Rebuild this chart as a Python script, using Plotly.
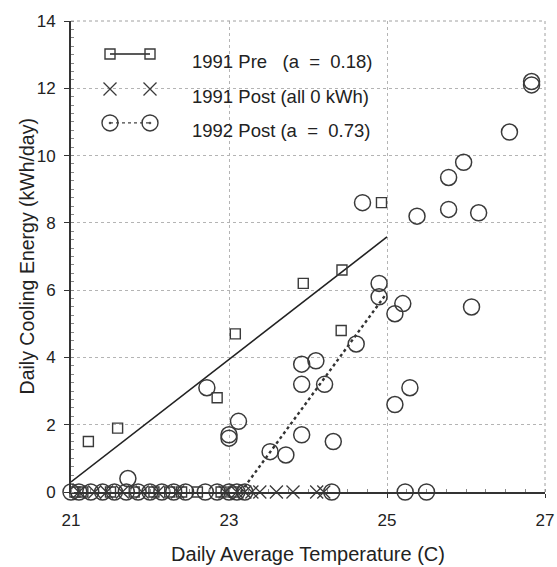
import plotly.graph_objects as go

# ---- data -------------------------------------------------------------
# 1991 pre-retrofit days (squares)
pre91_temp = [21.22, 21.59, 22.85, 23.08, 23.94, 24.43, 24.42, 24.93,
              21.05, 21.15, 21.5, 21.8, 22.05, 22.25, 22.4, 22.6, 22.9, 23.05]
pre91_kwh = [1.5, 1.9, 2.8, 4.7, 6.2, 6.6, 4.8, 8.6,
             0, 0, 0, 0, 0, 0, 0, 0, 0, 0]

# 1991 post-retrofit days (all zero)
post91_temp = [21.1, 21.3, 21.45, 21.65, 21.9, 22.1, 22.35, 22.95, 23.1, 23.2,
               23.29, 23.39, 23.6, 23.81, 24.11, 24.2]
post91_kwh = [0, 0, 0, 0, 0, 0, 0, 0, 0, 0,
              0, 0, 0, 0, 0, 0]

# 1992 post-retrofit days (circles)
post92_temp = [21.72, 22.72, 23.0, 23.0, 23.12, 23.52, 23.72, 23.92, 23.92, 23.92,
               24.1, 24.21, 24.32, 24.61, 24.69, 24.9, 24.9, 25.1, 25.2, 25.1,
               25.29, 25.38, 25.78, 25.78, 25.97, 26.07, 26.16, 26.55, 26.83, 26.83,
               24.3, 25.23, 25.5,
               21.0, 21.1, 21.25, 21.4, 21.55, 21.7, 21.85, 22.0, 22.15, 22.3,
               22.45, 22.7, 22.85, 23.0, 23.1, 23.2]
post92_kwh = [0.4, 3.1, 1.6, 1.7, 2.1, 1.2, 1.1, 1.7, 3.2, 3.8,
              3.9, 3.2, 1.5, 4.4, 8.6, 6.2, 5.8, 5.3, 5.6, 2.6,
              3.1, 8.2, 8.4, 9.35, 9.8, 5.5, 8.3, 10.7, 12.1, 12.2,
              0, 0, 0,
              0, 0, 0, 0, 0, 0, 0, 0, 0, 0,
              0, 0, 0, 0, 0, 0]

# fitted lines: kWh = slope * (T - t0), drawn between t_start and t_end
pre91_fit = {"t0": 20.835, "slope": 1.82, "t_start": 21.0, "t_end": 25.0}
post92_fit = {"t0": 23.15, "slope": 3.2, "t_start": 23.15, "t_end": 24.97}

legend_labels = ["1991 Pre   (a  =  0.18)",
                 "1991 Post (all 0 kWh)",
                 "1992 Post (a  =  0.73)"]

x_ticks = [21, 23, 25, 27]
y_ticks = [0, 2, 4, 6, 8, 10, 12, 14]

# ---- styling ------------------------------------------------------------
INK = "#3a3a3a"
FONT = "Liberation Sans, Arial, sans-serif"


def fit_xy(fit):
    xs = [fit["t_start"], fit["t_end"]]
    ys = [fit["slope"] * (t - fit["t0"]) for t in xs]
    return xs, ys


fig = go.Figure()

# regression lines
fx, fy = fit_xy(pre91_fit)
fig.add_trace(go.Scatter(x=fx, y=fy, mode="lines",
                         line=dict(color="#222222", width=1.6),
                         hoverinfo="skip", cliponaxis=False))
fx, fy = fit_xy(post92_fit)
fig.add_trace(go.Scatter(x=fx, y=fy, mode="lines",
                         line=dict(color="#333333", width=2.4, dash="dot"),
                         hoverinfo="skip", cliponaxis=False))

# observations
fig.add_trace(go.Scatter(x=post92_temp, y=post92_kwh, mode="markers",
                         marker=dict(symbol="circle-open", size=16,
                                     color=INK, line=dict(width=1.5)),
                         cliponaxis=False))
fig.add_trace(go.Scatter(x=post91_temp, y=post91_kwh, mode="markers",
                         marker=dict(symbol="x-thin-open", size=13,
                                     color=INK, line=dict(width=1.3, color=INK)),
                         cliponaxis=False))
fig.add_trace(go.Scatter(x=pre91_temp, y=pre91_kwh, mode="markers",
                         marker=dict(symbol="square-open", size=10,
                                     color=INK, line=dict(width=1.4)),
                         cliponaxis=False))

# ---- key (drawn on an overlay axis measured in pixels from the plot corner)
key_rows = [33, 68, 102]
key_x = [39, 79]
key_text_x = 119
key_text_dy = 8

fig.add_trace(go.Scatter(x=key_x, y=[key_rows[0]] * 2, mode="lines+markers",
                         xaxis="x2", yaxis="y2",
                         line=dict(color="#222222", width=1.3),
                         marker=dict(symbol="square-open", size=10, color=INK,
                                     line=dict(width=1.4)),
                         hoverinfo="skip"))
fig.add_trace(go.Scatter(x=key_x, y=[key_rows[1]] * 2, mode="markers",
                         xaxis="x2", yaxis="y2",
                         marker=dict(symbol="x-thin-open", size=13, color=INK,
                                     line=dict(width=1.3, color=INK)),
                         hoverinfo="skip"))
fig.add_trace(go.Scatter(x=key_x, y=[key_rows[2]] * 2, mode="lines+markers",
                         xaxis="x2", yaxis="y2",
                         line=dict(color="#444444", width=1.2, dash="dot"),
                         marker=dict(symbol="circle-open-dot", size=16, color=INK,
                                     line=dict(width=1.4)),
                         hoverinfo="skip"))
for row, label in zip(key_rows, legend_labels):
    fig.add_annotation(x=key_text_x, y=row + key_text_dy, xref="x2", yref="y2",
                       text=label, showarrow=False, xanchor="left",
                       yanchor="middle",
                       font=dict(family=FONT, size=18.5, color="#222222"))

# y-axis title placed as a rotated annotation just left of the tick labels
fig.add_annotation(x=-0.093, y=0.5, xref="paper", yref="paper",
                   text="Daily Cooling Energy (kWh/day)", showarrow=False,
                   textangle=-90, xanchor="center", yanchor="middle",
                   font=dict(family=FONT, size=19.5, color="#222222"))

grid = dict(showgrid=True, gridcolor="#b4b4b4", gridwidth=1, griddash="dot")

fig.update_layout(
    width=557, height=567,
    margin=dict(l=71, r=12, t=21, b=75),
    paper_bgcolor="white", plot_bgcolor="white",
    showlegend=False,
    font=dict(family=FONT, size=16, color="#222222"),
    xaxis=dict(range=[21, 27], tickvals=x_ticks, ticks="outside", ticklen=4,
               tickcolor="#333", showline=True, linecolor="#333", linewidth=1.5,
               zeroline=False, ticklabelstandoff=8, automargin=False,
               title=dict(text="Daily Average Temperature (C)",
                          font=dict(size=20), standoff=18),
               tickfont=dict(size=17),
               minor=dict(dtick=0.25, ticks="inside", ticklen=3,
                          tickcolor="#888", showgrid=False),
               **grid),
    yaxis=dict(range=[0, 14], tickvals=y_ticks, ticks="outside", ticklen=5,
               tickcolor="#333", showline=True, linecolor="#333", linewidth=1.8,
               zeroline=False, ticklabelstandoff=5, automargin=False,
               tickfont=dict(size=17),
               minor=dict(dtick=0.25, ticks="inside", ticklen=3,
                          tickcolor="#888", showgrid=False),
               **grid),
    xaxis2=dict(overlaying="x", range=[0, 474], visible=False, fixedrange=True),
    yaxis2=dict(overlaying="y", range=[471.3, 0], visible=False, fixedrange=True),
)

# outer frame: dotted right/top edges
fig.add_shape(type="line", xref="paper", yref="paper", x0=1, x1=1, y0=0, y1=1,
              line=dict(color="#a0a0a0", width=1, dash="dot"))
fig.add_shape(type="line", xref="paper", yref="paper", x0=0, x1=1, y0=1, y1=1,
              line=dict(color="#a0a0a0", width=1, dash="dot"))

fig.write_html("out.html")
